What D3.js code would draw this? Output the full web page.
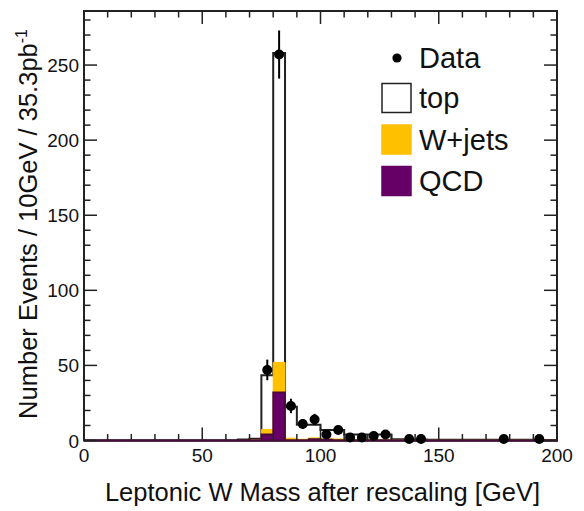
<!DOCTYPE html>
<html>
<head>
<meta charset="utf-8">
<script src="https://cdn.jsdelivr.net/npm/d3@7"></script>
<style>
  html, body { margin: 0; padding: 0; background: #fff; }
  svg { display: block; font-family: "Liberation Sans", Arial, Helvetica, sans-serif; }
</style>
</head>
<body>
<svg id="chart" width="584" height="511"></svg>
<script>
// Histogram binning: lower edges of the 5 GeV bins
const binLow = [0, 5, 10, 15, 20, 25, 30, 35, 40, 45, 50, 55, 60, 65, 70, 75, 80, 85, 90, 95,
                100, 105, 110, 115, 120, 125, 130, 135, 140, 145, 150, 155, 160, 165, 170, 175, 180, 185, 190, 195];
const binWidth = 5;

// Simulated samples per bin (events)
const qcdEvents   = [0, 0, 0, 0, 0, 0, 0, 0, 0, 0, 0, 0, 0, 0.05, 0.3, 4, 32, 0.3, 0.3, 0.9,
                     0.6, 0.2, 0.2, 0.2, 0.3, 0.2, 0.1, 0.05, 0.05, 0.05, 0.05, 0.05, 0.05, 0.05, 0.05, 0.05, 0.05, 0.05, 0.05, 0.05];
const wjetsEvents = [0, 0, 0, 0, 0, 0, 0, 0, 0, 0, 0, 0, 0, 0, 0.2, 3.3, 20, 1.2, 0.5, 0.8,
                     0.6, 0.8, 0.3, 0.3, 0.2, 0.2, 0.1, 0.1, 0.1, 0.1, 0.1, 0.1, 0.1, 0.1, 0.1, 0.1, 0.1, 0.1, 0.1, 0.1];
const topEvents   = [0, 0, 0, 0, 0, 0, 0, 0, 0, 0, 0, 0, 0, 0.6, 0.7, 36.2, 206, 21, 9.7, 8.8,
                     5.8, 6.0, 3.5, 3.5, 3.5, 3.6, 0.6, 0.5, 0.5, 0.4, 0.4, 0.4, 0.3, 0.3, 0.3, 0.3, 0.3, 0.3, 0.2, 0.2];

// Observed data (bin centre, count)
const dataMass   = [77.5, 82.5, 87.5, 92.5, 97.5, 102.5, 107.5, 112.5, 117.5, 122.5, 127.5, 137.5, 142.5, 177.5, 192.5];
const dataCounts = [47, 257, 23, 11, 14, 4, 7, 2, 2, 3, 4, 1, 1, 1, 1];

// Axis ticks
const xMajor = [0, 50, 100, 150, 200];
const xMinor = [10, 20, 30, 40, 60, 70, 80, 90, 110, 120, 130, 140, 160, 170, 180, 190];
const yMajor = [0, 50, 100, 150, 200, 250];
const yMinor = [10, 20, 30, 40, 60, 70, 80, 90, 110, 120, 130, 140, 160, 170, 180, 190,
                210, 220, 230, 240, 260, 270, 280];

const legendItems = [
  { label: "top",    fill: "#ffffff", stroke: "#222" },
  { label: "W+jets", fill: "#ffc000", stroke: "#ffc000" },
  { label: "QCD",    fill: "#660066", stroke: "#660066" }
];

const frame = { left: 84, right: 557, top: 11, bottom: 440.5 };
const svg = d3.select("#chart");

const x = d3.scaleLinear().domain([0, 200]).range([frame.left, frame.right]);
const y = d3.scaleLinear().domain([0, 286]).range([frame.bottom, frame.top]);

// Stacked totals: QCD, QCD+W+jets, QCD+W+jets+top
const sumQ  = qcdEvents.slice();
const sumQW = qcdEvents.map((v, i) => v + wjetsEvents[i]);
const sumAll = sumQW.map((v, i) => v + topEvents[i]);

function stepPath(vals) {
  const pts = [];
  pts.push([x(binLow[0]), y(0)]);
  vals.forEach((v, i) => {
    pts.push([x(binLow[i]), y(v)]);
    pts.push([x(binLow[i] + binWidth), y(v)]);
  });
  pts.push([x(binLow[binLow.length - 1] + binWidth), y(0)]);
  return d3.line()(pts);
}

// Frame
svg.append("rect")
  .attr("x", frame.left).attr("y", frame.top)
  .attr("width", frame.right - frame.left).attr("height", frame.bottom - frame.top)
  .attr("fill", "none").attr("stroke", "#222").attr("stroke-width", 2);

const g = svg.append("g");

// Stack drawn from the full sum downwards
g.append("path").attr("d", stepPath(sumAll) + "Z")
  .attr("fill", "#ffffff").attr("stroke", "#222").attr("stroke-width", 2);
g.append("path").attr("d", stepPath(sumQW) + "Z")
  .attr("fill", "#ffc000").attr("stroke", "#ffc000").attr("stroke-width", 1);
g.append("path").attr("d", stepPath(sumQ) + "Z")
  .attr("fill", "#660066").attr("stroke", "#4a0a3a").attr("stroke-width", 1.8);

// Ticks on all four sides, pointing inwards
const ticks = svg.append("g").attr("stroke", "#222").attr("stroke-width", 1.5);
function xTicks(vals, len) {
  vals.forEach(v => {
    ticks.append("line").attr("x1", x(v)).attr("x2", x(v))
      .attr("y1", frame.bottom).attr("y2", frame.bottom - len);
    ticks.append("line").attr("x1", x(v)).attr("x2", x(v))
      .attr("y1", frame.top).attr("y2", frame.top + len);
  });
}
function yTicks(vals, len) {
  vals.forEach(v => {
    ticks.append("line").attr("y1", y(v)).attr("y2", y(v))
      .attr("x1", frame.left).attr("x2", frame.left + len);
    ticks.append("line").attr("y1", y(v)).attr("y2", y(v))
      .attr("x1", frame.right).attr("x2", frame.right - len);
  });
}
xTicks(xMajor, 13); xTicks(xMinor, 6.5);
yTicks(yMajor, 13); yTicks(yMinor, 6.5);

// Tick labels
svg.append("g").selectAll("text").data(xMajor).join("text")
  .attr("x", d => x(d)).attr("y", 462)
  .attr("text-anchor", "middle").attr("font-size", 19).attr("fill", "#111")
  .text(d => d);
svg.append("g").selectAll("text").data(yMajor).join("text")
  .attr("x", 79).attr("y", d => y(d) + 7)
  .attr("text-anchor", "end").attr("font-size", 19).attr("fill", "#111")
  .text(d => d);

// Axis titles
svg.append("text").attr("x", 540).attr("y", 501)
  .attr("text-anchor", "end").attr("font-size", 25.5).attr("fill", "#111")
  .text("Leptonic W Mass after rescaling [GeV]");
const yt = svg.append("text")
  .attr("transform", "translate(37,29) rotate(-90)")
  .attr("text-anchor", "end").attr("font-size", 25.5).attr("fill", "#111");
yt.append("tspan").text("Number Events / 10GeV / 35.3pb");
yt.append("tspan").attr("dy", -10).attr("font-size", 16).text("-1");

// Data points with Poisson error bars
const dg = svg.append("g");
dg.selectAll("line").data(dataMass).join("line")
  .attr("x1", d => x(d)).attr("x2", d => x(d))
  .attr("y1", (d, i) => y(dataCounts[i] - Math.sqrt(dataCounts[i])))
  .attr("y2", (d, i) => y(dataCounts[i] + Math.sqrt(dataCounts[i])))
  .attr("stroke", "#000").attr("stroke-width", 2);
dg.selectAll("circle").data(dataMass).join("circle")
  .attr("cx", d => x(d)).attr("cy", (d, i) => y(dataCounts[i]))
  .attr("r", 5).attr("fill", "#000");

// Legend
const lg = svg.append("g");
lg.append("circle").attr("cx", 397).attr("cy", 58).attr("r", 4.6).attr("fill", "#000");
lg.append("text").attr("x", 419).attr("y", 68).attr("font-size", 29).attr("fill", "#111").text("Data");
legendItems.forEach((it, i) => {
  const cy = 98 + i * 41.5;
  lg.append("rect").attr("x", 382).attr("y", cy - 14.5).attr("width", 29).attr("height", 29)
    .attr("fill", it.fill).attr("stroke", it.stroke).attr("stroke-width", 1.5);
  lg.append("text").attr("x", 419).attr("y", cy + 10).attr("font-size", 29).attr("fill", "#111").text(it.label);
});
</script>
</body>
</html>
